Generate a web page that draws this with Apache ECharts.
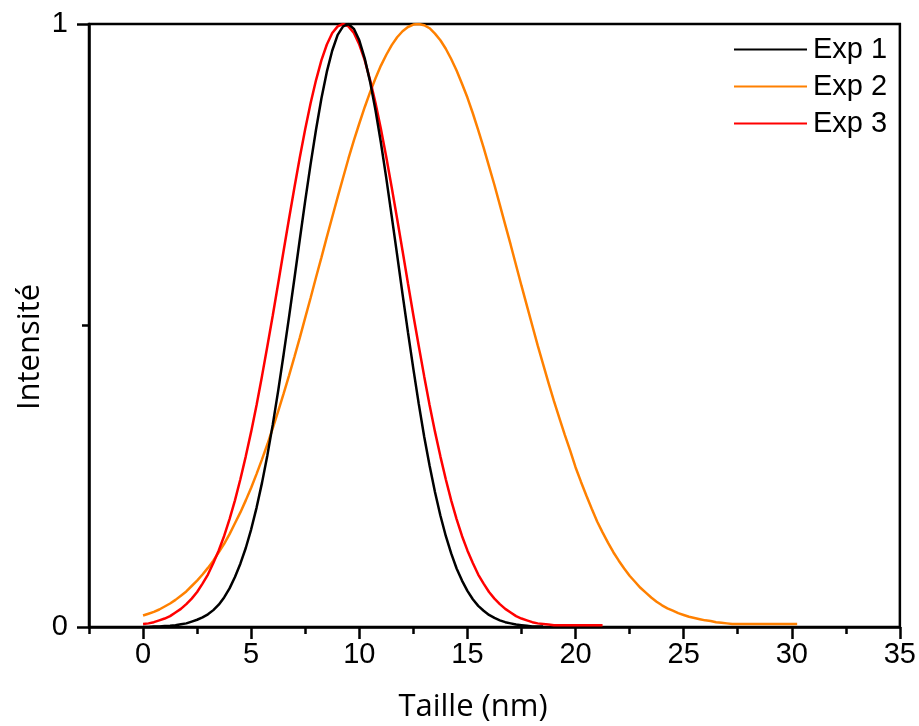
<!DOCTYPE html>
<html>
<head>
<meta charset="utf-8">
<script src="https://cdn.jsdelivr.net/npm/echarts@6/dist/echarts.min.js"></script>
<style>
  html, body { margin: 0; padding: 0; background: #ffffff; }
  #chart { width: 919px; height: 726px; }
</style>
</head>
<body>
<div id="chart"></div>
<script>
// Size axis (nm) sample positions
const sizes = [0,0.25,0.5,0.75,1,1.25,1.5,1.75,2,2.25,2.5,2.75,3,3.25,3.5,3.75,4,4.25,4.5,4.75,
  5,5.25,5.5,5.75,6,6.25,6.5,6.75,7,7.25,7.5,7.75,8,8.25,8.5,8.75,9,9.25,9.5,9.75,
  10,10.25,10.5,10.75,11,11.25,11.5,11.75,12,12.25,12.5,12.75,13,13.25,13.5,13.75,14,14.25,14.5,14.75,
  15,15.25,15.5,15.75,16,16.25,16.5,16.75,17,17.25,17.5,17.75,18,18.25,18.5,18.75,19,19.25,19.5,19.75,
  20,20.25,20.5,20.75,21,21.25,21.5,21.75,22,22.25,22.5,22.75,23,23.25,23.5,23.75,24,24.25,24.5,24.75,
  25,25.25,25.5,25.75,26,26.25,26.5,26.75,27,27.25,27.5,27.75,28,28.25,28.5,28.75,29,29.25,29.5,29.75,
  30,30.25];

const seriesNames = ['Exp 1', 'Exp 2', 'Exp 3'];

const exp1 = [0.000,0.000,0.001,0.001,0.0015,0.002,0.003,0.0045,0.006,0.009,0.012,0.016,0.021,0.028,0.037,0.049,
  0.064,0.083,0.105,0.131,0.162,0.198,0.239,0.285,0.336,0.392,0.452,0.514,0.578,0.643,0.707,0.768,
  0.825,0.877,0.921,0.956,0.982,0.996,1.000,0.992,0.973,0.943,0.904,0.857,0.803,0.744,0.681,0.617,
  0.552,0.489,0.428,0.370,0.316,0.268,0.224,0.185,0.151,0.122,0.097,0.077,0.060,0.046,0.035,0.027,
  0.020,0.015,0.011,0.008,0.006,0.004,0.003,0.002,0.001,0.001,0.001];

const exp2 = [0.019,0.022,0.025,0.029,0.034,0.039,0.045,0.052,0.059,0.068,0.077,0.087,0.098,0.110,0.124,0.138,
  0.154,0.172,0.190,0.210,0.231,0.254,0.278,0.303,0.330,0.358,0.387,0.417,0.448,0.480,0.513,0.546,
  0.580,0.613,0.647,0.680,0.713,0.745,0.777,0.807,0.835,0.862,0.887,0.910,0.931,0.949,0.965,0.978,
  0.988,0.995,0.999,1.000,0.998,0.993,0.984,0.973,0.959,0.942,0.923,0.901,0.878,0.852,0.824,0.795,
  0.764,0.733,0.700,0.667,0.634,0.600,0.566,0.533,0.500,0.467,0.436,0.405,0.375,0.347,0.319,0.293,
  0.265,0.241,0.218,0.196,0.175,0.157,0.140,0.124,0.110,0.097,0.085,0.075,0.065,0.057,0.049,0.042,
  0.036,0.031,0.027,0.023,0.020,0.017,0.015,0.013,0.011,0.010,0.008,0.007,0.006,0.005,0.005,0.005,
  0.005,0.005,0.005,0.005,0.005,0.005,0.005,0.005,0.005,0.005];

const exp3 = [0.005,0.006,0.008,0.011,0.014,0.018,0.024,0.030,0.038,0.047,0.058,0.072,0.087,0.106,0.127,0.151,
  0.179,0.210,0.245,0.283,0.324,0.368,0.416,0.466,0.517,0.570,0.624,0.677,0.729,0.779,0.826,0.869,
  0.907,0.940,0.966,0.985,0.996,1.000,0.996,0.985,0.966,0.940,0.907,0.869,0.826,0.779,0.729,0.677,
  0.624,0.570,0.517,0.466,0.416,0.368,0.324,0.283,0.245,0.210,0.179,0.151,0.127,0.106,0.087,0.072,
  0.058,0.047,0.038,0.030,0.024,0.018,0.014,0.011,0.008,0.006,0.005,0.004,0.003,0.003,0.003,0.003,
  0.003,0.003,0.003,0.003,0.003,0.003];

const xMajorTicks = [0, 5, 10, 15, 20, 25, 30, 35];
const xMinorTicks = [-2.5, 2.5, 7.5, 12.5, 17.5, 22.5, 27.5, 32.5];
const yMajorTicks = [0, 1];
const yMinorTicks = [0.5];
const xTitle = 'Taille (nm)';
const yTitle = 'Intensité';

const colors = ['#000000', '#ff8000', '#ff0000'];

function pairs(vals) { return vals.map((v, i) => [sizes[i], v]); }

const chart = echarts.init(document.getElementById('chart'), null, { renderer: 'canvas' });

function tickLabel(values, margin) {
  return { show: true, customValues: values, margin: margin, fontFamily: 'Liberation Sans', fontSize: 29, color: '#000' };
}

chart.setOption({
  animation: false,
  backgroundColor: '#ffffff',
  grid: { left: 89, right: 17, top: 24, bottom: 99, show: true, borderColor: '#000', borderWidth: 2.5, backgroundColor: 'transparent' },
  legend: {
    data: seriesNames.map(n => ({ name: n, icon: 'rect' })),
    orient: 'vertical',
    left: 729,
    top: 30,
    itemWidth: 73,
    itemHeight: 2,
    itemGap: 8,
    textStyle: { fontFamily: 'Liberation Sans', fontSize: 29, color: '#000', padding: [0, 0, 0, 1] }
  },
  xAxis: [
    {
      type: 'value', min: -2.5, max: 35, position: 'bottom',
      axisLine: { show: true, onZero: false, lineStyle: { color: '#000', width: 2.5 } },
      axisTick: { show: true, customValues: xMajorTicks, length: 12, lineStyle: { color: '#000', width: 2.5 } },
      axisLabel: tickLabel(xMajorTicks, 13),
      splitLine: { show: false }
    },
    {
      type: 'value', min: -2.5, max: 35, position: 'bottom',
      axisLine: { show: false, onZero: false },
      axisTick: { show: true, customValues: xMinorTicks, length: 7, lineStyle: { color: '#000', width: 2.5 } },
      axisLabel: { show: false },
      splitLine: { show: false }
    }
  ],
  yAxis: [
    {
      type: 'value', min: 0, max: 1, position: 'left',
      axisLine: { show: true, onZero: false, lineStyle: { color: '#000', width: 2.5 } },
      axisTick: { show: true, customValues: yMajorTicks, length: 12, lineStyle: { color: '#000', width: 2.5 } },
      axisLabel: tickLabel(yMajorTicks, 21),
      splitLine: { show: false }
    },
    {
      type: 'value', min: 0, max: 1, position: 'left',
      axisLine: { show: false, onZero: false },
      axisTick: { show: true, customValues: yMinorTicks, length: 7, lineStyle: { color: '#000', width: 2.5 } },
      axisLabel: { show: false },
      splitLine: { show: false }
    }
  ],
  graphic: [
    { type: 'text', x: 473, y: 707, style: { text: xTitle, fontFamily: 'Open Sans', fontSize: 31, fill: '#000', textAlign: 'center', textVerticalAlign: 'middle' } },
    { type: 'text', x: 30, y: 347, rotation: Math.PI / 2, style: { text: yTitle, fontFamily: 'Open Sans', fontSize: 31, fill: '#000', textAlign: 'center', textVerticalAlign: 'middle' } }
  ],
  series: [
    { name: seriesNames[0], type: 'line', data: pairs(exp1), symbol: 'none', lineStyle: { width: 2.5, color: colors[0] }, itemStyle: { color: colors[0] }, z: 4 },
    { name: seriesNames[1], type: 'line', data: pairs(exp2), symbol: 'none', lineStyle: { width: 2.5, color: colors[1] }, itemStyle: { color: colors[1] }, z: 2 },
    { name: seriesNames[2], type: 'line', data: pairs(exp3), symbol: 'none', lineStyle: { width: 2.5, color: colors[2] }, itemStyle: { color: colors[2] }, z: 3 }
  ]
});
</script>
</body>
</html>
